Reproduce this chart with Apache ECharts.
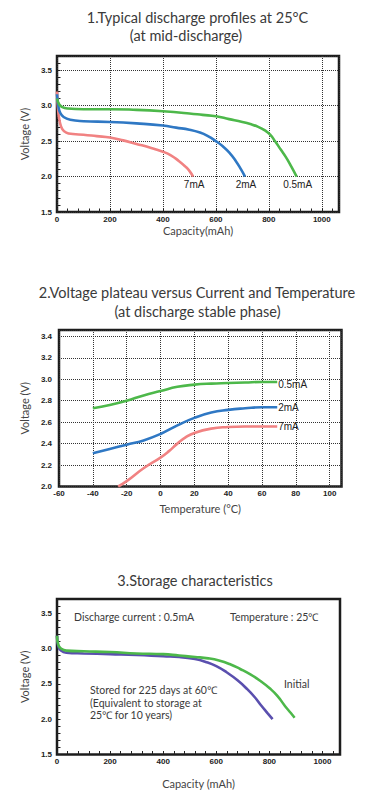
<!DOCTYPE html>
<html>
<head>
<meta charset="utf-8">
<script src="https://cdn.jsdelivr.net/npm/echarts@6/dist/echarts.min.js"></script>
<style>
html, body { margin: 0; padding: 0; background: #fff; }
#main { width: 377px; height: 809px; }
</style>
</head>
<body>
<div id="main"></div>
<script>
// 1. typical discharge profiles at 25°C (capacity mAh / voltage V)
var cap7mA = [0, 4, 10, 20, 35, 60, 100, 150, 200, 250, 300, 350, 400, 430, 460, 485, 500, 514]
var volt7mA = [3.20, 2.95, 2.78, 2.67, 2.62, 2.60, 2.59, 2.57, 2.55, 2.51, 2.46, 2.41, 2.35, 2.30, 2.22, 2.14, 2.08, 2.00]
var cap2mA = [0, 5, 12, 25, 50, 100, 200, 300, 400, 450, 500, 540, 570, 600, 625, 650, 675, 695, 710]
var volt2mA = [3.16, 3.00, 2.90, 2.84, 2.80, 2.78, 2.77, 2.75, 2.72, 2.69, 2.66, 2.62, 2.57, 2.50, 2.43, 2.34, 2.22, 2.10, 2.00]
var cap05mA = [0, 8, 20, 40, 100, 200, 300, 400, 500, 550, 600, 650, 700, 730, 760, 785, 805, 825, 845, 865, 885, 905]
var volt05mA = [3.10, 3.02, 2.98, 2.96, 2.95, 2.95, 2.94, 2.92, 2.89, 2.87, 2.85, 2.81, 2.77, 2.74, 2.70, 2.65, 2.59, 2.49, 2.38, 2.27, 2.14, 2.00]

// 2. voltage plateau vs temperature (°C / V)
var temp05mA = [-40, -30, -20, -10, 0, 10, 20, 30, 40, 50, 60, 69]
var plat05mA = [2.73, 2.76, 2.80, 2.85, 2.89, 2.93, 2.95, 2.96, 2.965, 2.97, 2.975, 2.975]
var temp2mA = [-40, -30, -20, -10, 0, 10, 20, 30, 40, 50, 60, 69]
var plat2mA = [2.31, 2.35, 2.39, 2.43, 2.49, 2.57, 2.64, 2.69, 2.715, 2.73, 2.74, 2.74]
var temp7mA = [-25, -20, -10, 0, 5, 10, 15, 20, 30, 40, 50, 60, 69]
var plat7mA = [2.00, 2.05, 2.17, 2.27, 2.33, 2.40, 2.46, 2.50, 2.54, 2.555, 2.56, 2.56, 2.56]

// 3. storage characteristics, 0.5mA at 25°C
var capInitial = [0, 5, 15, 35, 100, 200, 300, 400, 460, 520, 570, 610, 650, 690, 730, 770, 800, 830, 860, 880, 895]
var voltInitial = [3.18, 3.05, 3.00, 2.97, 2.96, 2.95, 2.93, 2.92, 2.90, 2.88, 2.86, 2.83, 2.78, 2.71, 2.63, 2.53, 2.44, 2.33, 2.18, 2.09, 2.02]
var capStored = [0, 5, 15, 35, 100, 200, 300, 400, 460, 520, 560, 600, 640, 680, 715, 745, 770, 792, 812]
var voltStored = [3.18, 3.03, 2.97, 2.94, 2.93, 2.92, 2.91, 2.89, 2.88, 2.85, 2.81, 2.75, 2.66, 2.55, 2.43, 2.31, 2.19, 2.09, 2.00]

var GREEN = '#4db84a'
var BLUE = '#2f78c4'
var RED = '#f18282'
var PURPLE = '#5a4fae'

var tickFont = { fontFamily: 'Liberation Sans', fontWeight: 'bold', fontSize: 8, color: '#222' }
var nameFont = { fontFamily: 'Lato', fontSize: 11, color: '#444' }
var gridLine = { show: true, lineStyle: { color: '#333', type: [1, 1], width: 1 } }
var oneDecimal = function (v) { return v.toFixed(1) }
var plain = function (v) { return String(v) }

function pairs (xs, ys) {
  return xs.map(function (x, i) { return [x, ys[i]] })
}

// main axis: labels + dotted grid, no ticks
function mainAxis (grid, min, max, interval, o) {
  return Object.assign({
    gridIndex: grid,
    type: 'value',
    min: min,
    max: max,
    interval: interval,
    axisLine: { show: false },
    axisTick: { show: false },
    splitLine: { show: false },
    nameLocation: 'middle',
    nameTextStyle: nameFont
  }, o)
}

function labels (margin, fmt) {
  return Object.assign({ showMaxLabel: false, margin: margin, formatter: fmt }, tickFont)
}

// small inner ticks only
function tickAxis (grid, min, max, interval, pos) {
  return {
    gridIndex: grid,
    type: 'value',
    position: pos,
    min: min,
    max: max,
    interval: interval,
    axisLine: { show: false },
    axisTick: { show: true, inside: true, length: 3.5, lineStyle: { color: '#222', width: 1 } },
    axisLabel: { show: false },
    splitLine: { show: false }
  }
}

function curve (name, x, y, xi, yi, color, label, labelOpt) {
  var s = {
    name: name,
    type: 'line',
    xAxisIndex: xi,
    yAxisIndex: yi,
    data: pairs(x, y),
    smooth: 0.5,
    symbol: 'none',
    lineStyle: { color: color, width: 2.6 },
    itemStyle: { color: color }
  }
  if (label) {
    s.endLabel = Object.assign({
      show: true,
      formatter: label,
      fontFamily: 'Liberation Sans',
      fontSize: 10,
      color: '#222'
    }, labelOpt)
  }
  return s
}

function text (x, y, str, size, align) {
  return {
    type: 'text',
    x: x,
    y: y,
    style: {
      text: str,
      fontFamily: 'Lato',
      fontSize: size,
      fill: '#3a3a3a',
      align: align || 'center',
      verticalAlign: 'middle'
    }
  }
}

var frame = { show: true, borderColor: '#1c1c1c', borderWidth: 2.5, backgroundColor: 'transparent' }
var below = { align: 'center', verticalAlign: 'top', distance: 0, offset: [1, 3] }

var option = {
  animation: false,
  grid: [
    Object.assign({ left: 57, top: 56, width: 282, height: 156 }, frame),
    Object.assign({ left: 59, top: 330, width: 282.5, height: 156.5 }, frame),
    Object.assign({ left: 57, top: 599, width: 283, height: 155.5 }, frame)
  ],
  xAxis: [
    mainAxis(0, 0, 1065, 200, { splitLine: gridLine, name: 'Capacity(mAh)', nameGap: 13, axisLabel: labels(3, plain) }),
    tickAxis(0, 0, 1065, 40, 'bottom'),
    mainAxis(1, -60, 107, 20, { splitLine: gridLine, name: 'Temperature (°C)', nameGap: 16, axisLabel: labels(3, plain) }),
    mainAxis(2, 0, 1066, 200, { name: 'Capacity (mAh)', nameGap: 23, axisLabel: labels(3, plain) }),
    tickAxis(2, 0, 1066, 40, 'bottom')
  ],
  yAxis: [
    mainAxis(0, 1.5, 3.7, 0.5, { splitLine: gridLine, name: 'Voltage (V)', nameGap: 21, axisLabel: labels(5, oneDecimal) }),
    tickAxis(0, 1.5, 3.7, 0.1, 'left'),
    mainAxis(1, 2.0, 3.46, 0.2, { splitLine: gridLine, name: 'Voltage (V)', nameGap: 23, axisLabel: labels(7, oneDecimal) }),
    mainAxis(2, 1.5, 3.7, 0.5, { name: 'Voltage (V)', nameGap: 21, position: 'left', axisLabel: labels(5, oneDecimal) }),
    tickAxis(2, 1.5, 3.7, 0.1, 'left')
  ],
  series: [
    curve('7mA', cap7mA, volt7mA, 0, 0, RED, '7mA', below),
    curve('2mA', cap2mA, volt2mA, 0, 0, BLUE, '2mA', below),
    curve('0.5mA', cap05mA, volt05mA, 0, 0, GREEN, '0.5mA', below),
    curve('0.5mA', temp05mA, plat05mA, 2, 2, GREEN, '0.5mA', { distance: 1, offset: [0, 3] }),
    curve('2mA', temp2mA, plat2mA, 2, 2, BLUE, '2mA', { distance: 1 }),
    curve('7mA', temp7mA, plat7mA, 2, 2, RED, '7mA', { distance: 1 }),
    curve('Stored', capStored, voltStored, 3, 3, PURPLE),
    curve('Initial', capInitial, voltInitial, 3, 3, GREEN)
  ],
  graphic: [
    text(197.5, 17.5, '1.Typical discharge profiles at 25°C', 14.5),
    text(186, 35.5, '(at mid-discharge)', 14.5),
    text(197, 292, '2.Voltage plateau versus Current and Temperature', 14.5),
    text(197.5, 311, '(at discharge stable phase)', 14.5),
    text(195, 580, '3.Storage characteristics', 14.5),
    text(74, 617, 'Discharge current : 0.5mA', 10.5, 'left'),
    text(230, 617, 'Temperature : 25℃', 10.5, 'left'),
    text(284, 683.5, 'Initial', 10.5, 'left'),
    text(90, 690, 'Stored for 225 days at 60℃', 10.5, 'left'),
    text(90, 702.5, '(Equivalent to storage at', 10.5, 'left'),
    text(90, 715, '25℃ for 10 years)', 10.5, 'left')
  ]
}

var myChart = echarts.init(document.getElementById('main'), null, { renderer: 'svg' })
myChart.setOption(option)
window.onresize = myChart.resize
</script>
</body>
</html>
